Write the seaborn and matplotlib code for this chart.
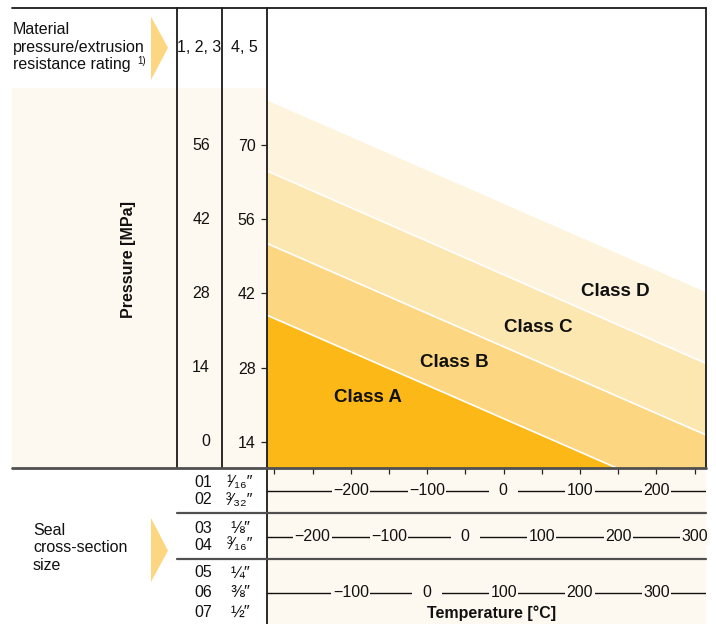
import matplotlib
matplotlib.use("Agg")
import matplotlib.pyplot as plt
import matplotlib.transforms as mtransforms
from matplotlib.patches import Polygon, Rectangle
import seaborn as sns

sns.set_theme(style="white")
plt.rcParams["font.family"] = ["Liberation Sans", "DejaVu Sans"]

# --- data -------------------------------------------------------------
temp_range = [-310, 264.5]          # temperature (row 01/02 scale), chart edges
classes = ["Class A", "Class B", "Class C", "Class D"]
class_top = {                        # upper pressure limit at the two chart edges [MPa]
    "Class A": [37.9, 1.7],
    "Class B": [51.45, 15.3],
    "Class C": [65.15, 28.8],
    "Class D": [78.5, 42.3],
}
class_colors = {"Class A": "#fbb817", "Class B": "#fcd680",
                "Class C": "#fde7b1", "Class D": "#fef4dd"}
label_pos = {"Class A": (-178, 22.4), "Class B": (-64, 29.0),
             "Class C": (46, 35.6), "Class D": (146, 42.3)}

pressure_45 = [14, 28, 42, 56, 70]   # rating 4, 5
pressure_123 = [0, 14, 28, 42, 56]   # rating 1, 2, 3
temp_ticks = list(range(-300, 251, 50))

# temperature scales per cross-section group: labels and offset vs. chart axis
size_codes = [["01", "02"], ["03", "04"], ["05", "06", "07"]]
size_inch = [["¹⁄₁₆″", "³⁄₃₂″"], ["⅛″", "³⁄₁₆″"], ["¼″", "⅜″", "½″"]]
row_labels = [[-200, -100, 0, 100, 200],
              [-200, -100, 0, 100, 200, 300],
              [-100, 0, 100, 200, 300]]
row_shift = [0, 50, 100]

cream = "#fef9f0"
W, H = 716, 624
FS = 11.5


def fx(px):
    return px / W


def fy(py):
    return 1 - py / H


def fmt(t):
    if t == 0:
        return "  0  "
    return f"{t}".replace("-", "−")


fig = plt.figure(figsize=(W / 100, H / 100), dpi=100)

# background layer (pixel coordinates)
bg = fig.add_axes([0, 0, 1, 1], zorder=0)
bg.set_xlim(0, W)
bg.set_ylim(H, 0)
bg.axis("off")
bg.add_patch(Rectangle((12, 88), 266.7 - 12, 468 - 88, color=cream, lw=0))
bg.add_patch(Rectangle((266.7, 468), 705.7 - 266.7, H - 468, color=cream, lw=0))

# main chart
x0, x1, ytop, ybot = 266.7, 705.7, 8, 468
ax = fig.add_axes([fx(x0), fy(ybot), (x1 - x0) / W, (ybot - ytop) / H], zorder=2)
ax.set_facecolor("white")
ax.set_xlim(*temp_range)
ax.set_ylim(9.04, 95.86)
for s in ax.spines.values():
    s.set_visible(False)

for c in classes[::-1]:
    ax.fill_between(temp_range, 0, class_top[c], color=class_colors[c], lw=0)
for c in classes[:-1]:
    sns.lineplot(x=temp_range, y=class_top[c], color="white", lw=1.2, ax=ax)
for c in classes:
    ax.text(*label_pos[c], c, ha="center", va="center", fontsize=13.5,
            fontweight="bold", color="#111111")

ax.set_yticks(pressure_45)
ax.set_yticklabels([str(v) for v in pressure_45])
ax.set_xticks(temp_ticks)
ax.set_xticklabels([])
ax.tick_params(left=True, bottom=True, direction="out", length=4, width=0.9,
               color="#222222", labelsize=FS, pad=4, labelcolor="#111111")
blend = mtransforms.blended_transform_factory(fig.transFigure, ax.transData)
for v45, v123 in zip(pressure_45, pressure_123):
    ax.text(fx(210), v45, str(v123), transform=blend, ha="right", va="center",
            fontsize=FS, color="#111111")
ax.set_xlabel("")
ax.set_ylabel("")

# temperature scales below the chart
row_y = [490.7, 536.7, 592.7]
for labels, shift, yy in zip(row_labels, row_shift, row_y):
    r = fig.add_axes([fx(x0), fy(yy + 10), (x1 - x0) / W, 20 / H], zorder=3)
    r.set_facecolor("none")
    r.axis("off")
    r.set_xlim(temp_range[0] + shift, temp_range[1] + shift)
    r.set_ylim(-1, 1)
    r.axhline(0, color="#111111", lw=1)
    for t in labels:
        r.text(t, 0, fmt(t), ha="center", va="center",
               fontsize=FS, color="#111111",
               bbox=dict(boxstyle="square,pad=0.08", fc=cream, ec="none"))

# overlay: table lines, headings, arrows
ov = fig.add_axes([0, 0, 1, 1], zorder=5)
ov.set_facecolor("none")
ov.set_xlim(0, W)
ov.set_ylim(H, 0)
ov.axis("off")
k = "#1a1a1a"
ov.plot([12, x1], [ytop, ytop], color=k, lw=1.3)
ov.plot([177, 177], [ytop, ybot], color=k, lw=1.3)
ov.plot([221.7, 221.7], [ytop, ybot], color=k, lw=1.3)
ov.plot([x0, x0], [ytop, H], color=k, lw=1.3)
ov.plot([x1, x1], [ytop, ybot], color=k, lw=1.3)
ov.plot([12, x1], [ybot, ybot], color="#505050", lw=2)
for yy in [513.3, 558.5]:
    ov.plot([177, x1], [yy, yy], color="#505050", lw=1.6)

arrow_c = "#fdd681"
ov.add_patch(Polygon([(151, 16.7), (168, 47.7), (151, 80)], closed=True,
                     color=arrow_c, lw=0))
ov.add_patch(Polygon([(151, 518), (168, 550.7), (151, 582)], closed=True,
                     color=arrow_c, lw=0))

ov.text(13, 30, "Material", ha="left", va="center", fontsize=FS, color="#111111")
ov.text(13, 47.5, "pressure/extrusion", ha="left", va="center", fontsize=FS,
        color="#111111")
ov.text(13, 65, "resistance rating", ha="left", va="center", fontsize=FS,
        color="#111111")
ov.text(137, 61, "1)", ha="left", va="center", fontsize=7, color="#111111")
ov.text(199.3, 47.5, "1, 2, 3", ha="center", va="center", fontsize=FS,
        color="#111111")
ov.text(244.2, 47.5, "4, 5", ha="center", va="center", fontsize=FS,
        color="#111111")
ov.text(128, 260, "Pressure [MPa]", rotation=90, ha="center", va="center",
        fontsize=FS, fontweight="bold", color="#111111")

ov.text(33, 530.7, "Seal", ha="left", va="center", fontsize=FS, color="#111111")
ov.text(33, 547.5, "cross-section", ha="left", va="center", fontsize=FS,
        color="#111111")
ov.text(33, 565, "size", ha="left", va="center", fontsize=FS, color="#111111")

code_y = [[482.7, 500], [528.3, 545], [572.7, 592.7, 612.7]]
for codes, inches, ys in zip(size_codes, size_inch, code_y):
    for cd, inch, yy in zip(codes, inches, ys):
        ov.text(203.5, yy, cd, ha="center", va="center", fontsize=FS,
                color="#111111")
        ov.text(240, yy, inch, ha="center", va="center", fontsize=12,
                color="#111111")

ov.text(492, 613, "Temperature [°C]", ha="center", va="center", fontsize=FS,
        fontweight="bold", color="#111111")

fig.savefig("out.png", dpi=100, facecolor="white")
